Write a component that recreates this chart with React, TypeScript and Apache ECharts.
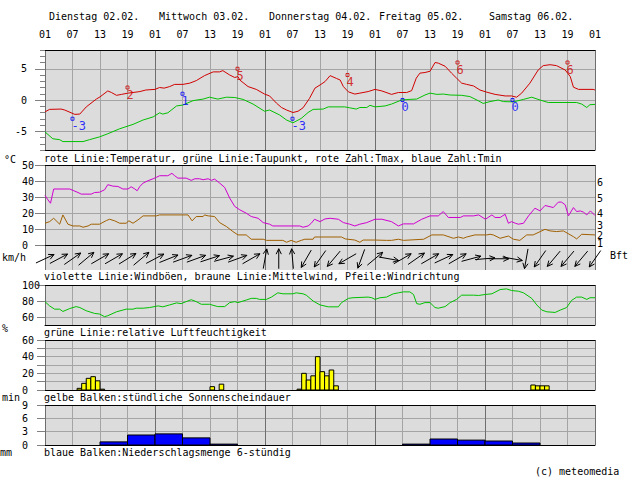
import React, { useEffect, useRef } from "react";
import * as echarts from "echarts";

// ---------------- data ----------------
// x values are hours since Tuesday 01:00 (0..120)
const dayStarts = [0, 24, 48, 72, 96];
const dayLabels = ["Dienstag 02.02.", "Mittwoch 03.02.", "Donnerstag 04.02.", "Freitag 05.02.", "Samstag 06.02."];

const temperature: number[][] = [
  [0, -1.9], [1, -1.5], [3.5, -1.45], [4.3, -1.6], [6.5, -2.3], [7.6, -2.25], [9, -1.1], [11.2, 0.15], [12, 0.5],
  [13.7, 1.45], [14.5, 1.2], [15.6, 0.75], [16.7, 0.9], [18.1, 1.1], [19.2, 1.2], [20.7, 1.35], [22, 1.6], [24, 1.7],
  [25, 2.0], [26, 1.9], [27.2, 2.15], [28.3, 2.5], [30.1, 2.5], [31.6, 2.7], [33, 3.1], [34.8, 3.9], [36.7, 4.5],
  [38.1, 4.5], [38.8, 4.7], [40.3, 4.0], [41.4, 3.6], [42.1, 3.75], [42.5, 3.2], [44.3, 2.15], [46.1, 1.7], [47.9, 0.95],
  [49, 0.65], [50.5, -0.5], [51.6, -1.2], [52.7, -1.6], [54.1, -2.0], [55.2, -1.8], [56.3, -1.25], [57.7, 0.25],
  [58.9, 1.9], [60, 2.4], [61.1, 2.95], [62.2, 3.9], [63.6, 3.45], [64.4, 3.2], [65.1, 2.15], [66.2, 1.3], [67.6, 0.95],
  [68.7, 1.1], [70.5, 1.35], [72, 1.7], [73.5, 1.45], [75.6, 0.9], [77.1, 1.2], [78.9, 1.2], [80, 1.5], [81, 3.5],
  [81.8, 4.3], [82.9, 4.4], [84, 4.6], [85.1, 6.0], [85.8, 5.9], [87.3, 5.4], [88.7, 4.3], [89.8, 3.5], [90.9, 2.7],
  [92, 2.5], [93.5, 2.25], [94.9, 1.6], [96.4, 1.25], [98.2, 0.9], [100.4, 0.65], [101.8, 0.65], [102.9, 0.45],
  [104, 1.1], [105.8, 2.7], [107.6, 4.8], [108.7, 5.5], [110.2, 5.65], [111.6, 5.5], [113.5, 4.8], [114.6, 3.75],
  [115.3, 2.05], [116.4, 1.7], [119.6, 1.7], [120, 1.6]
];

const dewPoint: number[][] = [
  [0, -5.1], [1.7, -6.2], [3.2, -6.35], [3.9, -6.65], [8.3, -6.65], [9.7, -6.35], [11.9, -5.9], [13.7, -5.4],
  [16.3, -4.6], [19.2, -3.9], [21.4, -3.2], [23.6, -2.7], [25, -2.05], [25.7, -2.25], [26.8, -2.05], [28.7, -0.95],
  [30.1, -0.8], [32.3, -0.1], [34.5, 0.15], [35.9, 0.45], [37.7, 0.15], [39.6, 0.45], [41.4, 0.4], [43.2, 0.1],
  [45.4, -0.65], [47.9, -1.8], [49, -1.6], [51.2, -2.4], [52.7, -3.2], [54.1, -3.65], [55.9, -2.95], [57.4, -2.0],
  [58.5, -1.5], [60.7, -1.45], [61.8, -1.1], [65.4, -1.1], [66.5, -1.25], [67.9, -1.45], [68.7, -1.2], [70.2, -1.2],
  [70.9, -0.85], [72, -1.1], [74.2, -0.95], [75.6, -0.65], [77.8, 0], [79.6, 0.1], [81.1, 0.15], [82.9, 0.8],
  [84, 1.1], [85.5, 0.9], [86.9, 0.95], [88.4, 0.8], [90.9, 0.75], [92.7, 0.55], [94.5, -0.1], [95.6, -0.55],
  [97.1, -0.25], [98.9, 0], [100, -0.25], [102.2, -0.3], [104.4, 0.1], [106.2, 0.45], [108, 0], [109.8, -0.4],
  [116, -0.4], [117.1, -0.65], [118.2, -1.2], [118.9, -0.75], [120, -0.7]
];

const tmaxHours = [18, 42, 66, 90, 114];
const tmaxValues = [2, 5, 4, 6, 6];
const tminHours = [6, 30, 54, 78, 102];
const tminValues = [-3, 1, -3, 0, 0];

const gusts: number[][] = [
  [0, 31], [0.65, 28.2], [1.2, 26.1], [1.9, 35], [5.4, 35], [6.3, 33.9], [7.2, 32.8], [7.9, 31.8], [10.1, 31.8],
  [10.8, 32.8], [11.9, 33], [13, 34.5], [13.7, 37.7], [14.8, 36.8], [15.9, 36.6], [17, 35], [18.1, 35], [18.8, 36.4],
  [19.6, 35], [20.1, 33.9], [20.7, 36.6], [21.4, 38.7], [22.5, 40.2], [23.6, 41.4], [24.3, 42.3], [25, 43.3],
  [26.8, 43.3], [27.7, 44.8], [28.3, 43.3], [29, 41.8], [30.8, 41.8], [31.9, 40.4], [32.7, 41.4], [33.7, 41.4],
  [34.5, 40.8], [35.6, 41.4], [36.3, 40.4], [37, 41.2], [38.1, 38.7], [39.2, 36], [40.3, 29.3], [41.4, 24.1],
  [42.5, 22], [43.9, 19.9], [45, 17.8], [46.5, 16.7], [47.6, 14], [49, 13], [49.7, 11.9], [55.6, 11.9], [56.3, 11.1],
  [57.4, 11.9], [58.1, 13.6], [58.8, 16.1], [60, 14.6], [61.1, 16.3], [62.2, 16.7], [64, 16.1], [65.1, 14],
  [66.5, 13], [67.6, 11.9], [68.7, 13], [70.2, 14], [72, 16.1], [73.5, 16.1], [75.6, 14.6], [77.1, 11.9],
  [78.2, 13.2], [80.4, 13.2], [82.2, 16.1], [84, 18.2], [85.8, 18.2], [86.9, 20.9], [88, 17.2], [90.6, 17.2],
  [91.3, 18.2], [93.5, 18.2], [94.6, 18.8], [96.1, 16.1], [97.5, 18.8], [98.2, 17.2], [99.3, 17.2], [100.4, 19.2],
  [101.1, 13.6], [101.8, 14.6], [102.6, 13.6], [103.3, 13], [104.4, 13.6], [105.5, 18.2], [106.9, 23], [108, 21.3],
  [109.1, 24.7], [110.9, 23.4], [112, 26.8], [112.7, 26.8], [113.5, 25.1], [114.2, 18.2], [115.3, 23.4], [116, 20.9],
  [116.8, 21.3], [117.5, 20.5], [118.2, 18.8], [119, 21.3], [120, 18.4]
];

const meanWind: number[][] = [
  [0, 13.6], [1, 14.6], [1.9, 16.7], [3.2, 13], [3.9, 18.8], [5, 13], [6.1, 11.9], [7.6, 11.9], [8.3, 11.1],
  [9.4, 11.9], [10.1, 13], [11.9, 13], [13.4, 15.3], [14.1, 16.1], [15.2, 15.1], [16.3, 13.6], [17.7, 13.6],
  [18.3, 15.1], [19.2, 13.6], [20.3, 15.7], [21.4, 18.2], [24.3, 18.2], [25, 18.8], [31.2, 18.8], [32.1, 15.1],
  [33, 17.8], [34.5, 17.8], [34.8, 18.8], [35.6, 18.2], [37, 17.8], [38.1, 14], [39.6, 11.5], [41, 8.4], [42.1, 6.3],
  [43.9, 6.3], [45, 3.6], [47.6, 3.6], [48.3, 2.9], [51.9, 2.9], [52.7, 1.7], [53.7, 2.9], [54.8, 1.7], [55.9, 2.9],
  [56.7, 3.6], [58.5, 3.6], [58.8, 5], [64.7, 5], [65.5, 3.8], [67.6, 3.1], [68.7, 1.7], [69.4, 3.1], [72, 3.1],
  [74.5, 2.9], [75.6, 2.9], [77.1, 3.6], [78.2, 2.9], [82.6, 3.6], [84.4, 6.3], [86.9, 6.3], [89.1, 4.2], [90.2, 5],
  [91.3, 4.2], [92, 5], [93.8, 6.3], [96.4, 6.3], [97.1, 6.7], [97.8, 6.3], [99.3, 4.2], [101.1, 5.6], [102.2, 3.6],
  [103.6, 2.9], [105.1, 6.3], [106.5, 6.3], [109.1, 9.8], [110.2, 8.8], [111.6, 8.4], [113.1, 8.8], [115.3, 5.2],
  [116, 3.8], [117.1, 6.7], [120, 6.3]
];

// wind arrows every 3 hours: direction the arrow points (degrees, 0 = east, 90 = north)
const arrowHours = [0, 3, 6, 9, 12, 15, 18, 21, 24, 27, 30, 33, 36, 39, 42, 45, 48, 51, 54, 57, 60, 63, 66, 69, 72,
  75, 78, 81, 84, 87, 90, 93, 96, 99, 102, 105, 108, 111, 114, 117, 120];
const arrowDirections = [25, 28, 35, 40, 30, 30, 32, 40, 28, 22, 20, 20, 18, 15, 20, 30, 80, 90, 95, 240, 235, 230,
  210, 250, 40, -10, 30, 35, 30, 25, 30, 15, 5, 0, -10, 260, 235, 230, 230, 230, 235];

// Beaufort scale thresholds (km/h) shown on the right of the wind panel
const bftKmh = [1, 6, 12, 20, 29, 39];
const bftLabels = ["1", "2", "3", "4", "5", "6"];

const humidity: number[][] = [
  [0, 79.2], [1, 73.9], [2.1, 69.8], [3.2, 69.8], [3.9, 66.9], [5.4, 70.6], [6.8, 73], [7.6, 71.8], [9, 67.8],
  [10.8, 64.5], [11.9, 63.7], [13, 60.4], [13.7, 61.6], [15.6, 66.5], [17.7, 69.8], [19.2, 69.8], [19.9, 71],
  [21.4, 71], [22.8, 71.8], [24.7, 73.9], [25.7, 72.7], [27.2, 75.1], [28.7, 77.6], [29.7, 76.7], [30.8, 79.2],
  [31.9, 81.6], [33, 79.2], [34.1, 75.9], [35.9, 75.9], [37.7, 73], [39.2, 73], [40.3, 78], [41.4, 79.2], [42.1, 78],
  [43.9, 81.2], [45, 83.3], [46.1, 83.3], [46.8, 82], [48.3, 82], [49.4, 84.9], [50.8, 90.2], [51.9, 89], [54.1, 89],
  [54.8, 90.2], [56.3, 89], [57, 87.3], [58.5, 80], [60, 75.1], [61.8, 72.7], [64, 72.7], [64.7, 78], [66.2, 83.3],
  [67.2, 84.1], [70.5, 84.9], [71.3, 84.1], [72, 82], [73.1, 84.1], [74.5, 84.9], [76, 89], [77.1, 90.2], [78.2, 91.4],
  [79.6, 91.4], [80.4, 88.2], [81.1, 76.7], [81.8, 75.9], [82.9, 78], [84, 78], [85.1, 71.8], [85.8, 71], [87.3, 73],
  [88.4, 78], [89.8, 82], [90.9, 87.3], [93.5, 87.3], [94.6, 86.9], [96.1, 88.2], [97.5, 89], [99.3, 94.3],
  [100.7, 95.1], [101.8, 93.1], [103.3, 92.2], [104.4, 90.2], [106.2, 83.3], [107.3, 75.1], [108.4, 68.6],
  [109.5, 66.5], [111.3, 65.7], [112.4, 68.6], [113.8, 71.8], [114.9, 80.8], [116, 84.9], [117.1, 84.9], [118.2, 82],
  [118.9, 84.1], [120, 84.1]
];

// hourly sunshine (bar covers hour h .. h+1), minutes
const sunHours = [7, 8, 9, 10, 11, 12, 36, 38, 55, 56, 57, 58, 59, 60, 61, 62, 63, 106, 107, 108, 109];
const sunMinutes = [2, 8, 14, 16, 11, 1, 4, 7, 1, 20, 12, 17, 40, 22, 17, 24, 5, 6, 5, 5, 5];

// 6-hour precipitation, mm
const precipStart = [12, 18, 24, 30, 36, 78, 84, 90, 96, 102];
const precipAmount = [0.7, 2.25, 2.5, 1.6, 0.2, 0.2, 1.35, 1.1, 0.9, 0.45];

// ---------------- styling ----------------
const FONT = "'DejaVu Sans Mono', monospace";
const BG = "#dcdcdc";
const GRID = "#a4a4a4";
const DAY = "#6e6e6e";
const TICK = "#808080";
const T = "rgba(0,0,0,0)";

const RED = "#d00000";
const GREEN = "#00c000";
const BLUE = "#0000ff";
const MAGENTA = "#d000d0";
const BROWN = "#a06000";

const panels = [
  { top: 50, height: 100 },
  { top: 165, height: 80 },
  { top: 245, height: 25 },
  { top: 285, height: 40 },
  { top: 340, height: 50 },
  { top: 405, height: 40 },
];

const captions = [
  { text: "rote Linie:Temperatur, grüne Linie:Taupunkt, rote Zahl:Tmax, blaue Zahl:Tmin", x: 44, y: 158 },
  { text: "violette Linie:Windböen, braune Linie:Mittelwind, Pfeile:Windrichtung", x: 44, y: 276 },
  { text: "grüne Linie:relative Luftfeuchtigkeit", x: 44, y: 332 },
  { text: "gelbe Balken:stündliche Sonnenscheindauer", x: 44, y: 397 },
  { text: "blaue Balken:Niederschlagsmenge 6-stündig", x: 44, y: 452 },
  { text: "°C", x: 4, y: 159 },
  { text: "km/h", x: 2, y: 257 },
  { text: "Bft", x: 610, y: 255 },
  { text: "%", x: 2, y: 328 },
  { text: "min", x: 2, y: 397 },
  { text: "mm", x: 0, y: 452 },
  { text: "(c) meteomedia", x: 535, y: 471 },
];

function xAxisBottom(gi: number, line: boolean) {
  return {
    type: "value", gridIndex: gi, min: 0, max: 120, interval: 6, position: "bottom",
    axisLine: { show: line, onZero: false, lineStyle: { color: "#000", width: 1 } },
    axisTick: { show: false }, axisLabel: { show: false },
    splitLine: { show: true, lineStyle: { color: [DAY, GRID, GRID, GRID], width: 1 } },
  };
}
function xAxisTop(gi: number) {
  return {
    type: "value", gridIndex: gi, min: 0, max: 120, interval: 6, position: "top",
    axisLine: { show: true, onZero: false, lineStyle: { color: "#000", width: 1 } },
    axisTick: { show: false }, axisLabel: { show: false }, splitLine: { show: false },
  };
}

const labelStyle = { color: "#000", fontFamily: FONT, fontSize: 10 };

function textEl(text: string, x: number, y: number, lineHeight?: number) {
  const style: any = { text, fill: "#000", fontFamily: FONT, fontSize: 10, verticalAlign: "middle", align: "left" };
  if (lineHeight) style.lineHeight = lineHeight;
  return { type: "text", x, y, silent: true, style };
}

export default function App() {
  const ref = useRef<HTMLDivElement>(null);
  useEffect(() => {
    const chart = echarts.init(ref.current!, null, { renderer: "svg" });

    const hourTop = {
      ...xAxisTop(0),
      axisLabel: {
        show: true, margin: 10.5, ...labelStyle,
        formatter: (v: number) => String((v + 1) % 24).padStart(2, "0"),
      },
    };
    const dayTop = {
      type: "value", gridIndex: 0, min: 0, max: 120, position: "top", offset: 20,
      axisLine: { show: false }, axisTick: { show: false }, splitLine: { show: false },
      axisLabel: {
        show: true, margin: 9, align: "left", padding: [0, 0, 0, 4], ...labelStyle,
        customValues: dayStarts,
        formatter: (v: number) => {
          const i = dayStarts.indexOf(v);
          return i >= 0 ? dayLabels[i] : "";
        },
      },
    };

    const tempSplitColors = [T, T, T, GRID, T, T, T, T, GRID, T, T, T, T, GRID, T, T, T];
    const captionEls = captions.map((c) => textEl(c.text, c.x, c.y));

    const option: any = {
      animation: false,
      textStyle: { fontFamily: FONT },
      grid: panels.map((p) => ({
        left: 45, right: 36, top: p.top, height: p.height, show: true,
        backgroundColor: BG, borderWidth: 0,
      })),
      xAxis: [
        xAxisBottom(0, true), hourTop, dayTop,
        xAxisBottom(1, true), xAxisTop(1),
        xAxisBottom(2, false),
        xAxisBottom(3, true), xAxisTop(3),
        xAxisBottom(4, true), xAxisTop(4),
        xAxisBottom(5, true), xAxisTop(5),
      ],
      yAxis: [
        // 0 temperature: minor ticks, labels, grid lines
        {
          type: "value", gridIndex: 0, position: "left", min: -8, max: 8, interval: 1,
          axisLine: { show: false },
          axisTick: { show: true, length: 5, lineStyle: { color: TICK } },
          axisLabel: {
            ...labelStyle, margin: 18,
            formatter: (v: number) => (v % 5 === 0 && Math.abs(v) <= 5 ? String(v) : ""),
          },
          splitLine: { show: true, lineStyle: { color: tempSplitColors, width: 1 } },
        },
        // 1 temperature major ticks
        {
          type: "value", gridIndex: 0, position: "left", min: -8, max: 8,
          axisLine: { show: false },
          axisTick: { show: true, length: 10, customValues: [-5, 0, 5], lineStyle: { color: TICK } },
          axisLabel: { show: false }, splitLine: { show: false },
        },
        // 2 wind km/h
        {
          type: "value", gridIndex: 1, position: "left", min: 0, max: 50, interval: 10,
          axisLine: { show: false },
          axisTick: { show: true, length: 10, lineStyle: { color: TICK } },
          axisLabel: { ...labelStyle, margin: 23, align: "left" },
          splitLine: { show: true, lineStyle: { color: [T, GRID, GRID, GRID, GRID, T] } },
        },
        // 3 arrow strip
        {
          type: "value", gridIndex: 2, position: "left", min: 0, max: 1, show: false,
          axisLine: { show: false }, axisTick: { show: false }, axisLabel: { show: false }, splitLine: { show: false },
        },
        // 4 humidity grid lines
        {
          type: "value", gridIndex: 3, position: "left", min: 50, max: 100, interval: 10,
          axisLine: { show: false }, axisTick: { show: false }, axisLabel: { show: false },
          splitLine: { show: true, lineStyle: { color: [T, GRID, T, GRID, T, T] } },
        },
        // 5 humidity ticks + labels
        {
          type: "value", gridIndex: 3, position: "left", min: 50, max: 100,
          axisLine: { show: false },
          axisTick: { show: true, length: 8, customValues: [60, 80, 100], lineStyle: { color: TICK } },
          axisLabel: { ...labelStyle, margin: 23, align: "left", customValues: [60, 80, 100] },
          splitLine: { show: false },
        },
        // 6 sunshine
        {
          type: "value", gridIndex: 4, position: "left", min: 0, max: 60, interval: 10,
          axisLine: { show: false },
          axisTick: { show: true, length: 8, lineStyle: { color: TICK } },
          axisLabel: {
            ...labelStyle, margin: 23, align: "left",
            formatter: (v: number) => (v % 20 === 0 ? String(v) : ""),
          },
          splitLine: { show: true, lineStyle: { color: [T, GRID, GRID, GRID, GRID, GRID, T] } },
        },
        // 7 precipitation
        {
          type: "value", gridIndex: 5, position: "left", min: 0, max: 9, interval: 3,
          axisLine: { show: false },
          axisTick: { show: true, length: 8, lineStyle: { color: TICK } },
          axisLabel: { ...labelStyle, margin: 23, align: "left" },
          splitLine: { show: true, lineStyle: { color: [T, GRID, GRID, T] } },
        },
      ],
      series: [
        {
          type: "line", name: "Taupunkt", xAxisIndex: 0, yAxisIndex: 0, data: dewPoint, showSymbol: false,
          lineStyle: { color: GREEN, width: 1 }, z: 3,
        },
        {
          type: "line", name: "Temperatur", xAxisIndex: 0, yAxisIndex: 0, data: temperature, showSymbol: false,
          lineStyle: { color: RED, width: 1 }, z: 4,
        },
        {
          type: "scatter", name: "Tmax", xAxisIndex: 0, yAxisIndex: 0, z: 5,
          data: tmaxHours.map((h, i) => [h, tmaxValues[i]]),
          symbol: "rect", symbolSize: 3,
          itemStyle: { color: T, borderColor: RED, borderWidth: 1 },
          label: {
            show: true, position: [1, 3], color: RED, fontFamily: FONT, fontSize: 12,
            formatter: (p: any) => String(p.value[1]),
          },
        },
        {
          type: "scatter", name: "Tmin", xAxisIndex: 0, yAxisIndex: 0, z: 5,
          data: tminHours.map((h, i) => [h, tminValues[i]]),
          symbol: "rect", symbolSize: 3,
          itemStyle: { color: T, borderColor: BLUE, borderWidth: 1 },
          label: {
            show: true, position: [1, 3], color: BLUE, fontFamily: FONT, fontSize: 12,
            formatter: (p: any) => String(p.value[1]),
          },
        },
        {
          type: "line", name: "Windböen", xAxisIndex: 3, yAxisIndex: 2, data: gusts, showSymbol: false,
          lineStyle: { color: MAGENTA, width: 1 }, z: 3,
        },
        {
          type: "line", name: "Mittelwind", xAxisIndex: 3, yAxisIndex: 2, data: meanWind, showSymbol: false,
          lineStyle: { color: BROWN, width: 1 }, z: 3,
        },
        {
          type: "custom", name: "Windrichtung", xAxisIndex: 5, yAxisIndex: 3, z: 3,
          data: arrowHours.map((h, i) => [h, arrowDirections[i]]),
          encode: { x: 0 },
          renderItem: (_params: any, api: any) => {
            const h = api.value(0);
            const ang = (api.value(1) * Math.PI) / 180;
            const c = api.coord([h, 0.45]);
            const L = 10;
            const dx = Math.cos(ang) * L;
            const dy = -Math.sin(ang) * L;
            const x2 = c[0] + dx, y2 = c[1] + dy;
            const hl = 6;
            const a1 = ang + Math.PI - 0.45;
            const a2 = ang + Math.PI + 0.45;
            return {
              type: "group",
              children: [
                { type: "line", shape: { x1: c[0] - dx, y1: c[1] - dy, x2, y2 }, style: { stroke: "#000", lineWidth: 1 } },
                {
                  type: "polyline",
                  shape: {
                    points: [
                      [x2 + Math.cos(a1) * hl, y2 - Math.sin(a1) * hl],
                      [x2, y2],
                      [x2 + Math.cos(a2) * hl, y2 - Math.sin(a2) * hl],
                    ],
                  },
                  style: { stroke: "#000", fill: null, lineWidth: 1 },
                },
              ],
            };
          },
        },
        {
          type: "line", name: "Luftfeuchtigkeit", xAxisIndex: 6, yAxisIndex: 4, data: humidity, showSymbol: false,
          lineStyle: { color: GREEN, width: 1 }, z: 3,
        },
        {
          type: "custom", name: "Sonnenschein", xAxisIndex: 8, yAxisIndex: 6, z: 3,
          data: sunHours.map((h, i) => [h, h + 1, sunMinutes[i]]),
          encode: { x: [0, 1], y: 2 },
          renderItem: (_params: any, api: any) => {
            const p0 = api.coord([api.value(0), api.value(2)]);
            const p1 = api.coord([api.value(1), 0]);
            return {
              type: "rect",
              shape: { x: p0[0], y: p0[1], width: p1[0] - p0[0], height: p1[1] - p0[1] },
              style: { fill: "#ffff00", stroke: "#000", lineWidth: 1 },
            };
          },
        },
        {
          type: "custom", name: "Niederschlag", xAxisIndex: 10, yAxisIndex: 7, z: 3,
          data: precipStart.map((h, i) => [h, h + 6, precipAmount[i]]),
          encode: { x: [0, 1], y: 2 },
          renderItem: (_params: any, api: any) => {
            const p0 = api.coord([api.value(0), api.value(2)]);
            const p1 = api.coord([api.value(1), 0]);
            return {
              type: "rect",
              shape: { x: p0[0], y: p0[1], width: p1[0] - p0[0], height: p1[1] - p0[1] },
              style: { fill: BLUE, stroke: "#000", lineWidth: 1 },
            };
          },
        },
      ],
      graphic: captionEls,
    };

    chart.setOption(option);

    // Beaufort labels placed through the wind axis scale
    const bftEls = bftKmh.map((v, i) => {
      const y = chart.convertToPixel({ yAxisIndex: 2 }, v) as unknown as number;
      return textEl(bftLabels[i], 597, y, 8);
    });
    chart.setOption({ graphic: [...captionEls, ...bftEls] });

    return () => chart.dispose();
  }, []);

  return (
    <div
      ref={ref}
      style={{ position: "absolute", left: 0, top: 0, width: 631, height: 480, background: "#fff" }}
    />
  );
}
